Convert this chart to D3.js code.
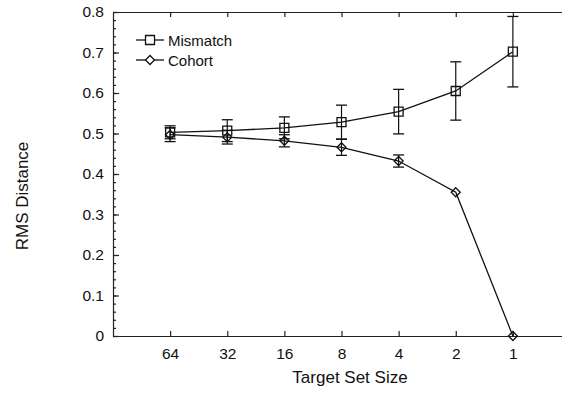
<!DOCTYPE html>
<html>
<head>
<meta charset="utf-8">
<script src="https://cdn.jsdelivr.net/npm/d3@7"></script>
<style>
  body { margin: 0; background: #fff; }
  svg text { font-family: "Liberation Sans", Arial, sans-serif; fill: #111; }
</style>
</head>
<body>
<div id="chart"></div>
<script>
// target set sizes, left to right
var sizes = ["64", "32", "16", "8", "4", "2", "1"];

var mismatch = [0.503, 0.507, 0.514, 0.528, 0.554, 0.605, 0.702];
var mismatchErr = [0.016, 0.027, 0.027, 0.042, 0.055, 0.072, 0.087];

var cohort = [0.497, 0.491, 0.482, 0.466, 0.432, 0.355, 0.0];
var cohortErr = [0.017, 0.017, 0.015, 0.020, 0.015, 0.0, 0.0];

var yTicks = [0, 0.1, 0.2, 0.3, 0.4, 0.5, 0.6, 0.7, 0.8];

var width = 562;
var height = 396;

var svg = d3.select("#chart")
  .append("svg")
  .attr("width", width)
  .attr("height", height);

//scales
var x = d3.scaleLinear().domain([-1, 7]).range([113, 570]);
var y = d3.scaleLinear().domain([0, 0.8]).range([336, 12]);

//left axis with minor ticks
var minor = d3.range(0, 0.8001, 0.02);
svg.append("g")
  .attr("transform", "translate(113,0)")
  .call(d3.axisLeft(y).tickValues(minor).tickSize(-3).tickFormat(""))
  .call(function(g) { g.select(".domain").remove(); });

svg.append("g")
  .attr("class", "yaxis")
  .attr("transform", "translate(113,0)")
  .call(d3.axisLeft(y).tickValues(yTicks).tickSize(-6).tickSizeOuter(0).tickPadding(9)
    .tickFormat(function(d) { return d === 0 ? "0" : d3.format(".1f")(d); }))
  .selectAll("text").style("font-size", "15.5px");

//bottom axis
var idx = d3.range(sizes.length);
svg.append("g")
  .attr("transform", "translate(0,336)")
  .call(d3.axisBottom(x).tickValues(idx).tickSize(-5).tickSizeOuter(0).tickPadding(12)
    .tickFormat(function(i) { return sizes[i]; }))
  .selectAll("text").style("font-size", "15.5px");

//top axis (no labels)
svg.append("g")
  .attr("transform", "translate(0,12)")
  .call(d3.axisTop(x).tickValues(idx).tickSize(-5).tickSizeOuter(0).tickFormat(""));

svg.selectAll(".domain, .tick line").attr("stroke", "#222").attr("stroke-width", 1.2);

//axis titles
svg.append("text")
  .attr("transform", "translate(28,196) rotate(-90)")
  .attr("text-anchor", "middle")
  .style("font-size", "17px")
  .text("RMS Distance");

svg.append("text")
  .attr("x", 350)
  .attr("y", 383)
  .attr("text-anchor", "middle")
  .style("font-size", "17px")
  .text("Target Set Size");

var line = d3.line()
  .x(function(d, i) { return x(i); })
  .y(function(d) { return y(d); });

function drawSeries(vals, errs, shape) {
  var g = svg.append("g");
  g.append("path")
    .datum(vals)
    .attr("d", line)
    .attr("fill", "none")
    .attr("stroke", "#111")
    .attr("stroke-width", 1.3);

  //error bars
  vals.forEach(function(v, i) {
    if (errs[i] <= 0) return;
    var cx = x(i);
    var y0 = y(v - errs[i]), y1 = y(v + errs[i]);
    g.append("line").attr("x1", cx).attr("x2", cx).attr("y1", y0).attr("y2", y1)
      .attr("stroke", "#111").attr("stroke-width", 1.2);
    [y0, y1].forEach(function(yy) {
      g.append("line").attr("x1", cx - 5.5).attr("x2", cx + 5.5).attr("y1", yy).attr("y2", yy)
        .attr("stroke", "#111").attr("stroke-width", 1.3);
    });
  });

  g.selectAll(".mk")
    .data(vals)
    .enter().append("path")
    .attr("transform", function(d, i) { return "translate(" + x(i) + "," + y(d) + ")"; })
    .attr("d", shape)
    .attr("fill", "none")
    .attr("stroke", "#111")
    .attr("stroke-width", 1.3);
}

var squareShape = "M-4.5,-4.5H4.5V4.5H-4.5Z";
var diamondShape = "M0,-4.5L4.5,0L0,4.5L-4.5,0Z";

drawSeries(mismatch, mismatchErr, squareShape);
drawSeries(cohort, cohortErr, diamondShape);

//legend
var legend = [["Mismatch", squareShape, 40], ["Cohort", diamondShape, 60]];
legend.forEach(function(l) {
  svg.append("line").attr("x1", 136).attr("x2", 164).attr("y1", l[2]).attr("y2", l[2])
    .attr("stroke", "#111").attr("stroke-width", 1.3);
  svg.append("path").attr("transform", "translate(150," + l[2] + ")")
    .attr("d", l[1]).attr("fill", "#fff").attr("stroke", "#111").attr("stroke-width", 1.3);
  svg.append("text").attr("x", 168).attr("y", l[2] + 5.5)
    .style("font-size", "15px").text(l[0]);
});
</script>
</body>
</html>
